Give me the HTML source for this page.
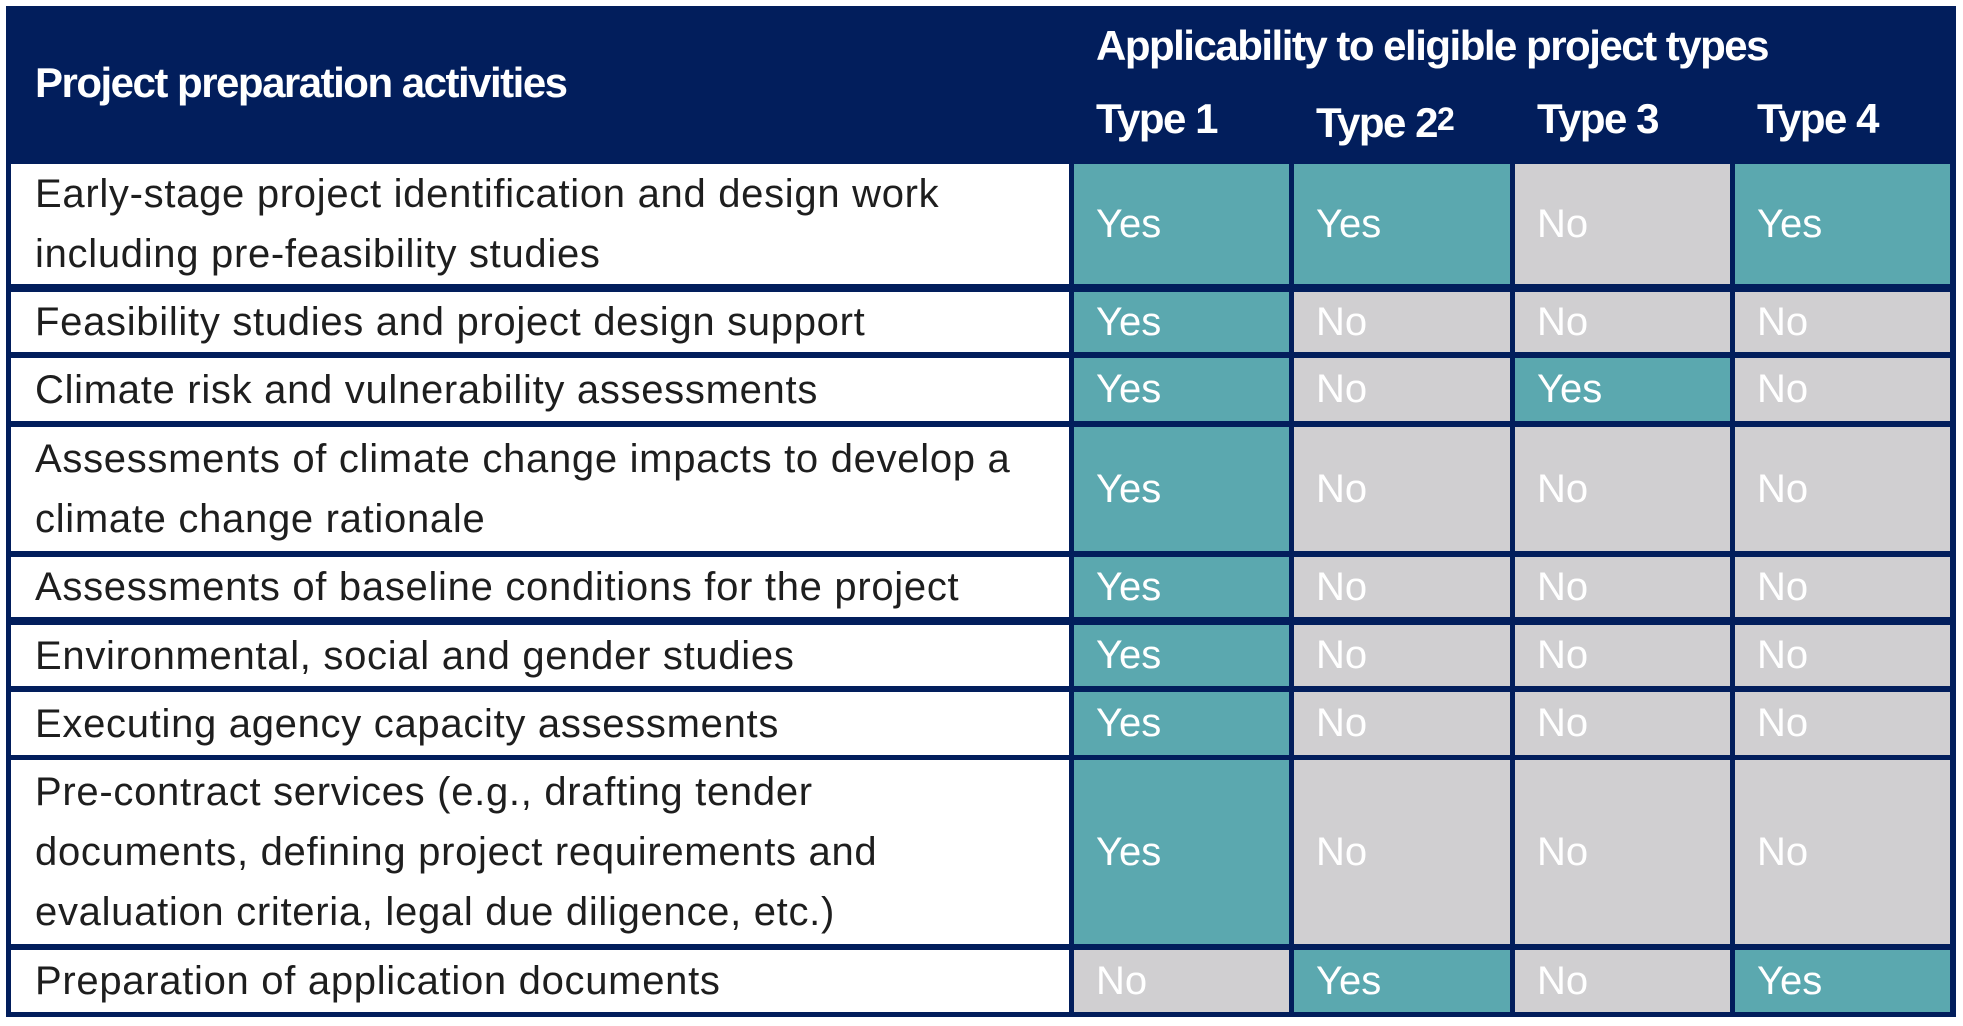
<!DOCTYPE html>
<html><head><meta charset="utf-8"><style>
body{margin:0;width:1963px;height:1026px;background:#fff;position:relative;overflow:hidden;font-family:"Liberation Sans",sans-serif}
.nav{position:absolute;left:6px;top:6px;width:1950px;height:1011px;background:#021e5c}
.c{position:absolute;display:flex;align-items:center;box-sizing:border-box;padding-left:22px;font-size:40px;color:#fff;white-space:nowrap}
.w{background:#fff;color:#1e1e1e;padding-left:24px;line-height:60px;letter-spacing:0.7px}
.y{background:#5ba8af}
.n{background:#d0cfd1}
.h{color:#fff;font-weight:bold;font-size:42px;letter-spacing:-1.5px}
</style></head><body>
<div class="nav"></div>
<div class="c h" style="left:11px;top:6px;width:1058px;height:153px;padding-left:24px">Project preparation activities</div>
<div class="c h" style="left:1074px;top:6px;width:880px;height:80px">Applicability to eligible project types</div>
<div class="c h" style="left:1074px;top:86px;width:215px;height:66px">Type 1</div>
<div class="c h" style="left:1294px;top:90px;width:215px;height:66px">Type 2<sup style="font-size:32px;position:relative;top:-4px">2</sup></div>
<div class="c h" style="left:1515px;top:86px;width:215px;height:66px">Type 3</div>
<div class="c h" style="left:1735px;top:86px;width:215px;height:66px">Type 4</div>

<div class="c w" style="left:11px;top:164px;width:1058px;height:120px">Early-stage project identification and design work<br>including pre-feasibility studies</div>
<div class="c y" style="left:1074px;top:164px;width:215px;height:120px">Yes</div>
<div class="c y" style="left:1294px;top:164px;width:216px;height:120px">Yes</div>
<div class="c n" style="left:1515px;top:164px;width:215px;height:120px">No</div>
<div class="c y" style="left:1735px;top:164px;width:215px;height:120px">Yes</div>

<div class="c w" style="left:11px;top:292px;width:1058px;height:60px">Feasibility studies and project design support</div>
<div class="c y" style="left:1074px;top:292px;width:215px;height:60px">Yes</div>
<div class="c n" style="left:1294px;top:292px;width:216px;height:60px">No</div>
<div class="c n" style="left:1515px;top:292px;width:215px;height:60px">No</div>
<div class="c n" style="left:1735px;top:292px;width:215px;height:60px">No</div>

<div class="c w" style="left:11px;top:358px;width:1058px;height:63px">Climate risk and vulnerability assessments</div>
<div class="c y" style="left:1074px;top:358px;width:215px;height:63px">Yes</div>
<div class="c n" style="left:1294px;top:358px;width:216px;height:63px">No</div>
<div class="c y" style="left:1515px;top:358px;width:215px;height:63px">Yes</div>
<div class="c n" style="left:1735px;top:358px;width:215px;height:63px">No</div>

<div class="c w" style="left:11px;top:427px;width:1058px;height:124px">Assessments of climate change impacts to develop a<br>climate change rationale</div>
<div class="c y" style="left:1074px;top:427px;width:215px;height:124px">Yes</div>
<div class="c n" style="left:1294px;top:427px;width:216px;height:124px">No</div>
<div class="c n" style="left:1515px;top:427px;width:215px;height:124px">No</div>
<div class="c n" style="left:1735px;top:427px;width:215px;height:124px">No</div>

<div class="c w" style="left:11px;top:557px;width:1058px;height:60px">Assessments of baseline conditions for the project</div>
<div class="c y" style="left:1074px;top:557px;width:215px;height:60px">Yes</div>
<div class="c n" style="left:1294px;top:557px;width:216px;height:60px">No</div>
<div class="c n" style="left:1515px;top:557px;width:215px;height:60px">No</div>
<div class="c n" style="left:1735px;top:557px;width:215px;height:60px">No</div>

<div class="c w" style="left:11px;top:625px;width:1058px;height:61px">Environmental, social and gender studies</div>
<div class="c y" style="left:1074px;top:625px;width:215px;height:61px">Yes</div>
<div class="c n" style="left:1294px;top:625px;width:216px;height:61px">No</div>
<div class="c n" style="left:1515px;top:625px;width:215px;height:61px">No</div>
<div class="c n" style="left:1735px;top:625px;width:215px;height:61px">No</div>

<div class="c w" style="left:11px;top:692px;width:1058px;height:63px">Executing agency capacity assessments</div>
<div class="c y" style="left:1074px;top:692px;width:215px;height:63px">Yes</div>
<div class="c n" style="left:1294px;top:692px;width:216px;height:63px">No</div>
<div class="c n" style="left:1515px;top:692px;width:215px;height:63px">No</div>
<div class="c n" style="left:1735px;top:692px;width:215px;height:63px">No</div>

<div class="c w" style="left:11px;top:760px;width:1058px;height:184px">Pre-contract services (e.g., drafting tender<br>documents, defining project requirements and<br>evaluation criteria, legal due diligence, etc.)</div>
<div class="c y" style="left:1074px;top:760px;width:215px;height:184px">Yes</div>
<div class="c n" style="left:1294px;top:760px;width:216px;height:184px">No</div>
<div class="c n" style="left:1515px;top:760px;width:215px;height:184px">No</div>
<div class="c n" style="left:1735px;top:760px;width:215px;height:184px">No</div>

<div class="c w" style="left:11px;top:950px;width:1058px;height:62px">Preparation of application documents</div>
<div class="c n" style="left:1074px;top:950px;width:215px;height:62px">No</div>
<div class="c y" style="left:1294px;top:950px;width:216px;height:62px">Yes</div>
<div class="c n" style="left:1515px;top:950px;width:215px;height:62px">No</div>
<div class="c y" style="left:1735px;top:950px;width:215px;height:62px">Yes</div>
</body></html>
